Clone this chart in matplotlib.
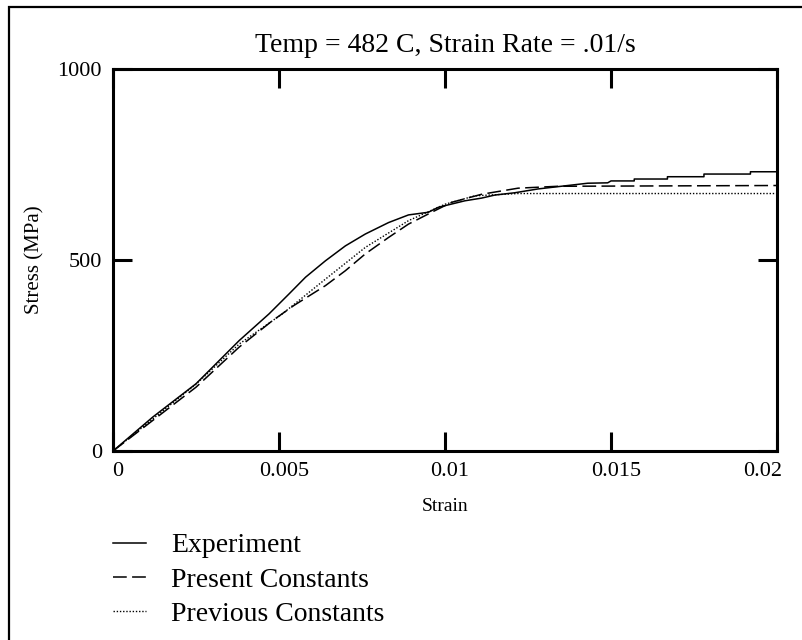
import matplotlib
matplotlib.use('Agg')
import matplotlib.pyplot as plt
import matplotlib.transforms as mtransforms
from matplotlib.patches import Rectangle

plt.rcParams['font.family'] = ['Liberation Serif', 'DejaVu Serif']

# experiment (plateau is stepped)
strain_exp = [0, 0.0012, 0.0025, 0.0038, 0.0047, 0.0053, 0.0058, 0.0064, 0.0070,
              0.0076, 0.0083, 0.0089, 0.0095, 0.0098, 0.0106, 0.0111, 0.0115,
              0.0121, 0.0128, 0.0136, 0.0143, 0.0149, 0.0150, 0.0157, 0.0157,
              0.0167, 0.0167, 0.0178, 0.0178, 0.0192, 0.0192, 0.0200]
stress_exp = [0, 89, 176, 289, 359, 411, 455, 498, 537,
              568, 598, 618, 625, 638, 655, 662, 670,
              676, 686, 694, 701, 702, 707, 707, 712,
              712, 718, 718, 725, 725, 731, 731]

# model with present constants
strain_present = [0, 0.0025, 0.0038, 0.0048, 0.00545, 0.0064, 0.0070, 0.0076,
                  0.0083, 0.0089, 0.0096, 0.0102, 0.0111, 0.0122, 0.0134, 0.0200]
stress_present = [0, 167, 272, 341, 381, 433, 472, 516,
                  559, 594, 625, 651, 672, 688, 693, 695]

# model with previous constants
strain_previous = [0, 0.0025, 0.0038, 0.0051, 0.0064, 0.0076, 0.0089, 0.0100,
                   0.0109, 0.0122, 0.0200]
stress_previous = [0, 175, 280, 359, 450, 533, 603, 646, 668, 674, 674]

x_ticks = [0, 0.005, 0.01, 0.015, 0.02]
x_labels = ['0', '0.005', '0.01', '0.015', '0.02']
y_ticks = [0, 500, 1000]
y_labels = ['0', '500', '1000']

# %%
fig = plt.figure(figsize=(8.02, 6.4), dpi=100)
ax = fig.add_axes([113 / 802, 1 - 451 / 640, 664 / 802, 382 / 640])

ax.plot(strain_exp, stress_exp, color='black', lw=1.1, label='Experiment')
ax.plot(strain_present, stress_present, color='black', lw=1.1,
        dashes=(9, 3.5), label='Present Constants')
ax.plot(strain_previous, stress_previous, color='black', lw=1.0,
        dashes=(1, 1.3), label='Previous Constants')

ax.set_xlim(0, 0.02)
ax.set_ylim(0, 1000)
ax.set_xticks(x_ticks)
ax.set_xticklabels(x_labels)
ax.set_yticks(y_ticks)
ax.set_yticklabels(y_labels)
ax.tick_params(direction='in', length=14, width=2.2, labelsize=16,
               top=True, right=True)
ax.tick_params(axis='x', pad=8)
ax.tick_params(axis='y', pad=8)
for s in ax.spines.values():
    s.set_linewidth(2.2)

# shift x tick labels a little to the right like the original
offset = mtransforms.ScaledTranslation(5 / 100, 0, fig.dpi_scale_trans)
for lab in ax.get_xticklabels():
    lab.set_transform(lab.get_transform() + offset)
ax.get_xticklabels()[-1].set_horizontalalignment('right')

ax.set_title('Temp = 482 C, Strain Rate = .01/s', fontsize=20, pad=12)
ax.set_xlabel('Strain', fontsize=14, labelpad=12)
ax.set_ylabel('Stress (MPa)', fontsize=15, labelpad=9)

ax.legend(loc='upper left', bbox_to_anchor=(113 / 802, 1 - 533 / 640),
          bbox_transform=fig.transFigure, frameon=False, fontsize=20,
          handlelength=1.2, handletextpad=0.9, labelspacing=0.32,
          borderpad=0, borderaxespad=0)

# outer frame (cut off at the right and bottom)
fig.patches.append(Rectangle((9 / 802, -0.2), 1.3, 1.2 - 7 / 640,
                             transform=fig.transFigure, fill=False,
                             lw=1.6, edgecolor='black', clip_on=False))

fig.savefig('out.png', dpi=100)
